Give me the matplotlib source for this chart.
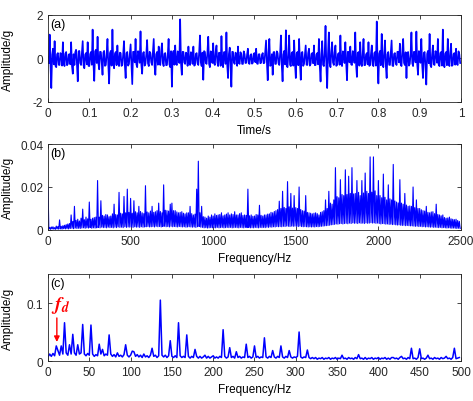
import numpy as np
import matplotlib
matplotlib.use('Agg')
from matplotlib import pyplot as plt

plt.rcParams['font.family'] = ['Liberation Sans', 'DejaVu Sans']
plt.rcParams['mathtext.fontset'] = 'stix'

# (a) time signal, sampled every 2 ms, amplitude in g
signal_a = [
    0.05, -0.22, 1.10, -0.31, -1.36, 0.18, 0.45, -0.27, 0.80, -0.34, -0.40, 0.20, 0.25, -0.29, -0.30, 0.25, 0.20, -0.33, 0.75, -0.21,
    -0.35, 0.22, 0.30, -0.31, -0.25, 0.18, 0.20, -0.27, 0.75, -0.34, -0.70, 0.20, -0.30, 0.29, 0.40, -0.25, -1.05, 0.33, 0.35, -0.21,
    -0.30, 0.22, 0.80, -0.31, -0.45, 0.18, 0.25, -0.27, 0.75, -0.34, -0.35, 0.20, 0.30, -0.29, 1.33, -0.25, -1.03, 0.33, 0.40, -0.21,
    1.00, -0.22, -0.50, 0.31, 0.30, -0.18, -0.75, 0.27, 0.35, -0.34, -0.30, 0.20, 0.90, -0.29, -1.15, 0.25, 0.35, -0.33, 1.33, -0.21,
    -0.45, 0.22, 0.30, -0.31, 0.60, -0.18, -0.35, 0.27, 0.25, -0.34, -0.30, 0.20, 0.80, -0.29, -0.90, 0.25, 0.30, -0.33, -0.25, 0.21,
    0.65, -0.22, -1.18, 0.31, 0.30, -0.18, 0.90, -0.27, -0.40, 0.34, 0.25, -0.20, 1.25, -0.29, -0.70, 0.25, 0.30, -0.33, -0.25, 0.21,
    0.85, -0.22, -0.35, 0.31, 0.25, -0.18, -0.30, 0.27, 0.90, -0.34, -0.75, 0.20, 0.30, -0.29, 0.55, -0.25, -0.30, 0.33, 0.70, -0.21,
    -0.35, 0.22, 0.25, -0.31, -0.30, 0.18, 0.90, -0.27, -0.40, 0.34, -1.30, 0.20, 0.35, -0.29, 0.60, -0.25, -0.30, 0.33, 0.25, -0.21,
    1.80, -0.22, -0.75, 0.31, 0.30, -0.18, -0.25, 0.27, 0.20, -0.34, 0.55, -0.20, -0.30, 0.29, 0.25, -0.25, 0.55, -0.33, -0.30, 0.21,
    0.25, -0.22, -0.30, 0.31, 1.06, -0.18, -0.35, 0.27, -0.98, 0.34, 0.30, -0.20, -0.25, 0.29, 1.00, -0.25, -0.40, 0.33, 0.30, -0.21,
    0.70, -0.22, -0.30, 0.31, 0.60, -0.18, -0.35, 0.27, 0.25, -0.34, 1.03, -0.20, -0.40, 0.29, 0.30, -0.25, 1.20, -0.33, -0.90, 0.21,
    0.50, -0.22, -1.30, 0.31, 0.30, -0.18, -0.25, 0.27, 0.20, -0.34, 0.55, -0.20, -0.25, 0.29, 0.20, -0.25, -0.25, 0.33, 0.20, -0.21,
    -0.20, 0.18, 0.45, -0.22, -0.25, 0.15, 0.20, -0.24, -0.20, 0.21, 0.25, -0.17, 0.45, -0.23, -0.25, 0.19, 0.20, -0.22, -0.20, 0.18,
    0.25, -0.22, -0.20, 0.31, 0.83, -0.18, -1.00, 0.27, 0.90, -0.34, -0.30, 0.20, -0.75, 0.29, 0.30, -0.25, -0.25, 0.33, 0.25, -0.21,
    -0.30, 0.22, 1.06, -0.31, -1.05, 0.18, 0.35, -0.27, 1.30, -0.34, -0.40, 0.20, 1.06, -0.29, -0.35, 0.25, 0.30, -0.33, 0.83, -0.21,
    -0.90, 0.22, 0.30, -0.31, 0.90, -0.18, -0.98, 0.27, 0.30, -0.34, -0.25, 0.20, 0.60, -0.29, -0.30, 0.25, 0.45, -0.33, -0.25, 0.21,
    0.25, -0.22, 0.60, -0.31, -0.30, 0.18, 0.25, -0.27, 0.90, -0.34, -1.06, 0.20, 0.80, -0.29, -0.35, 0.25, 1.50, -0.33, -1.36, 0.21,
    1.20, -0.22, -0.40, 0.31, 0.75, -0.18, -0.30, 0.27, 0.60, -0.34, -0.30, 0.20, 0.25, -0.29, 1.06, -0.25, -0.35, 0.33, 0.30, -0.21,
    0.75, -0.22, -1.00, 0.31, 0.30, -0.18, 0.55, -0.27, -0.30, 0.34, 0.25, -0.20, 1.20, -0.29, -0.85, 0.25, 0.30, -0.33, 0.75, -0.21,
    -0.35, 0.22, 0.90, -0.31, -0.30, 0.18, 0.25, -0.27, 0.75, -0.34, -0.30, 0.20, 0.60, -0.29, -0.35, 0.25, 0.30, -0.33, 1.70, -0.21,
    -1.15, 0.22, 0.35, -0.31, 1.13, -0.18, -0.40, 0.27, 0.83, -0.34, -0.90, 0.20, 0.30, -0.29, -0.30, 0.25, 0.83, -0.33, -0.35, 0.21,
    0.25, -0.22, -0.30, 0.31, 0.30, -0.18, 0.68, -0.27, -0.35, 0.34, 0.90, -0.20, -0.30, 0.29, -0.90, 0.25, 0.30, -0.33, -0.25, 0.21,
    1.20, -0.22, -0.35, 0.31, 0.30, -0.18, 1.24, -0.27, -0.75, 0.34, 0.30, -0.20, 0.90, -0.29, -0.90, 0.25, 0.30, -0.33, -1.20, 0.21,
    0.35, -0.22, 1.13, -0.31, -0.40, 0.18, 0.60, -0.27, -0.30, 0.34, 0.25, -0.20, 0.90, -0.29, -0.35, 0.25, 0.30, -0.33, 1.33, -0.21,
    -0.40, 0.22, 0.30, -0.31, 0.90, -0.18, -0.35, 0.27, 0.68, -0.34, -0.30, 0.20, 0.25, -0.29, 0.45, -0.25, -0.30, 0.33, 0.20, -0.21,
]

# (b) spectrum, 5 Hz bins, amplitude in 1e-3 g
spec_b = [
    20, 0.4, 1.2, 0.3, 1.4, 0.5, 1.5, 0.4, 1.1, 0.3, 1.8, 0.5, 1.6, 0.4, 4.7, 0.5, 1.7, 0.4, 2.0, 0.6,
    2.2, 0.5, 2.5, 0.6, 2.8, 0.5, 3.0, 0.7, 7.0, 0.8, 4.0, 0.6, 11.0, 0.9, 4.5, 0.7, 5.0, 0.8, 4.2, 0.7,
    5.5, 0.9, 9.7, 1.0, 4.8, 0.8, 6.0, 1.0, 5.2, 0.9, 13.0, 1.1, 5.0, 0.8, 5.5, 1.0, 5.8, 0.9, 6.0, 1.0,
    23.0, 1.2, 6.0, 1.0, 13.6, 1.3, 6.8, 1.1, 6.5, 1.2, 7.2, 1.0, 7.0, 1.3, 6.2, 1.1, 6.5, 1.2, 7.5, 1.0,
    12.0, 1.3, 7.2, 1.1, 7.0, 1.4, 17.5, 1.2, 7.8, 1.3, 7.5, 1.1, 15.6, 1.5, 8.0, 1.2, 19.0, 1.4, 8.2, 1.3,
    14.7, 1.4, 7.8, 1.2, 13.6, 1.5, 8.5, 1.3, 8.0, 1.4, 11.0, 1.2, 8.6, 1.5, 8.0, 1.3, 7.6, 1.4, 20.6, 1.5,
    8.4, 1.6, 8.0, 1.4, 8.8, 1.5, 11.0, 1.6, 8.2, 1.4, 8.5, 1.7, 9.0, 1.5, 12.5, 1.6, 8.6, 1.4, 8.0, 1.6,
    21.0, 1.7, 9.2, 1.5, 9.0, 1.6, 8.8, 1.4, 12.0, 1.7, 12.5, 1.5, 9.0, 1.6, 9.0, 1.5, 8.4, 1.4, 8.0, 1.6,
    8.2, 1.5, 8.5, 1.4, 7.8, 1.5, 7.5, 1.3, 8.0, 1.4, 8.0, 1.5, 11.0, 1.4, 7.6, 1.3, 7.0, 1.4, 7.4, 1.2,
    19.0, 1.5, 32.0, 1.6, 8.0, 1.3, 11.0, 1.2, 6.2, 1.0, 6.0, 1.1, 5.5, 0.9, 6.5, 1.0, 6.0, 1.1, 7.0, 1.0,
    6.5, 1.1, 7.5, 1.0, 6.8, 1.2, 7.0, 1.0, 7.2, 1.1, 8.0, 1.2, 6.6, 1.0, 7.0, 1.1, 7.4, 1.2, 8.0, 1.1,
    7.0, 1.2, 7.5, 1.0, 7.2, 1.1, 8.5, 1.2, 7.0, 1.1, 7.0, 1.0, 7.6, 1.2, 8.0, 1.1, 6.8, 1.0, 7.0, 1.2,
    6.8, 1.1, 19.0, 1.2, 6.6, 1.0, 7.0, 1.1, 6.4, 1.0, 6.5, 1.2, 7.2, 1.1, 7.0, 1.0, 11.5, 1.2, 6.8, 1.1,
    6.5, 1.2, 7.0, 1.1, 7.0, 1.3, 7.4, 1.2, 7.5, 1.4, 8.2, 1.3, 8.0, 1.5, 8.6, 1.4, 9.0, 1.6, 9.5, 1.5,
    13.4, 1.6, 10.0, 1.5, 18.0, 1.7, 10.5, 1.6, 10.0, 1.8, 22.5, 1.7, 10.8, 1.6, 17.0, 1.8, 10.2, 1.7, 16.0, 1.8,
    10.4, 1.7, 10.0, 1.6, 20.0, 1.8, 9.5, 1.6, 9.0, 1.5, 8.8, 1.6, 16.0, 1.5, 8.2, 1.4, 8.0, 1.5, 7.8, 1.4,
    7.5, 1.5, 7.8, 1.4, 8.0, 1.6, 7.6, 1.5, 7.0, 1.6, 8.2, 1.7, 8.5, 1.8, 9.0, 1.9, 14.0, 2.0, 10.0, 2.1,
    18.0, 2.2, 12.5, 2.4, 12.0, 2.5, 14.0, 2.6, 29.0, 2.8, 15.5, 2.7, 15.0, 2.9, 23.4, 3.0, 16.5, 2.8, 16.0, 3.0,
    28.0, 3.1, 16.5, 2.9, 25.0, 3.2, 17.0, 3.0, 29.0, 3.3, 16.8, 3.1, 17.0, 3.2, 23.0, 3.0, 17.5, 3.3, 16.0, 3.1,
    23.0, 3.2, 17.2, 3.0, 26.5, 3.3, 18.0, 3.1, 17.0, 3.2, 34.0, 3.4, 17.6, 3.2, 34.0, 3.3, 18.2, 3.1, 16.0, 3.2,
    23.0, 3.0, 16.0, 2.8, 15.0, 3.0, 26.0, 2.9, 15.2, 2.7, 14.0, 2.8, 21.0, 2.6, 14.5, 2.7, 14.0, 2.5, 30.5, 2.6,
    13.5, 2.4, 13.0, 2.3, 12.6, 2.4, 23.4, 2.2, 12.5, 2.1, 12.0, 2.2, 17.0, 2.0, 11.6, 2.1, 11.0, 2.0, 11.2, 1.9,
    11.0, 1.9, 20.0, 1.8, 10.4, 1.7, 14.0, 1.8, 10.0, 1.6, 10.0, 1.7, 9.4, 1.5, 9.0, 1.6, 8.8, 1.4, 11.0, 1.5,
    8.2, 1.4, 8.0, 1.3, 8.4, 1.4, 8.5, 1.2, 7.6, 1.3, 12.0, 1.2, 7.2, 1.1, 7.0, 1.2, 6.6, 1.0, 7.0, 1.1,
    5.8, 1.0, 5.5, 0.9, 5.6, 1.0, 6.0, 0.9, 5.2, 0.8, 5.0, 0.9, 4.8, 0.8, 5.0, 0.7, 4.4, 0.8, 4.0, 0.7,
]

# (c) envelope spectrum, 2 Hz bins, amplitude in 1e-3 g
spec_c = [
    7, 12, 8, 13, 9, 26, 18, 10, 26, 12,
    66, 14, 10, 28, 12, 46, 14, 10, 28, 12,
    14, 63, 12, 9, 13, 10, 62, 12, 8, 11,
    9, 29, 12, 20, 9, 12, 10, 45, 12, 8,
    11, 7, 14, 8, 10, 7, 11, 28, 10, 7,
    10, 17, 16, 8, 11, 7, 10, 6, 12, 7,
    9, 6, 10, 22, 8, 10, 6, 9, 105, 10,
    7, 10, 6, 9, 35, 8, 6, 9, 6, 66,
    9, 6, 8, 6, 45, 8, 5, 8, 6, 20,
    8, 5, 8, 5, 7, 10, 5, 8, 5, 7,
    9, 5, 7, 5, 8, 6, 54, 8, 5, 7,
    23, 6, 8, 5, 16, 6, 8, 5, 7, 6,
    29, 6, 8, 5, 7, 26, 6, 8, 5, 7,
    6, 40, 7, 5, 8, 6, 18, 7, 5, 8,
    6, 26, 7, 5, 8, 6, 18, 7, 5, 7,
    6, 8, 50, 7, 5, 7, 6, 19, 6, 4,
    6, 4, 6, 3, 5, 4, 6, 3, 5, 4,
    6, 3, 5, 4, 6, 3, 5, 4, 10, 4,
    5, 3, 6, 4, 5, 3, 6, 4, 11, 4,
    5, 3, 6, 3, 5, 4, 6, 3, 5, 4,
    6, 3, 5, 4, 6, 3, 5, 3, 6, 6,
    4, 5, 3, 6, 8, 4, 5, 3, 6, 4,
    22, 4, 5, 3, 6, 21, 4, 5, 3, 5,
    10, 4, 5, 3, 6, 4, 5, 3, 6, 4,
    5, 8, 4, 5, 3, 6, 22, 4, 5, 6,
]

fd = 10.7  # fault characteristic frequency, Hz

t = np.arange(len(signal_a)) * 0.002
f_b = np.arange(len(spec_b)) * 5.0
f_c = np.arange(len(spec_c)) * 2.0
amp_b = np.array(spec_b) * 1e-3
amp_c = np.array(spec_c) * 1e-3

fig = plt.figure(figsize=(4.73, 4.02), dpi=100)
ax1 = fig.add_axes([0.1015, 0.7438, 0.8731, 0.2164])
ax2 = fig.add_axes([0.1015, 0.4254, 0.8731, 0.2139])
ax3 = fig.add_axes([0.1015, 0.0995, 0.8731, 0.2164])

blue = '#0000ff'
ax1.plot(t, signal_a, color=blue, lw=1.2)
ax2.plot(f_b, amp_b, color=blue, lw=0.8)
ax3.plot(f_c, amp_c, color=blue, lw=1.1)

ax1.set_xlim(0, 1)
ax1.set_ylim(-2, 2)
ax1.set_xticks(np.arange(0, 1.01, 0.1))
ax1.set_xticklabels(['0', '0.1', '0.2', '0.3', '0.4', '0.5', '0.6', '0.7', '0.8', '0.9', '1'])
ax1.set_yticks([-2, 0, 2])
ax1.set_yticklabels(['-2', '0', '2'])
ax1.set_xlabel('Time/s', fontsize=8.5, labelpad=4)

ax2.set_xlim(0, 2500)
ax2.set_ylim(0, 0.04)
ax2.set_xticks([0, 500, 1000, 1500, 2000, 2500])
ax2.set_yticks([0, 0.02, 0.04])
ax2.set_yticklabels(['0', '0.02', '0.04'])
ax2.set_xlabel('Frequency/Hz', fontsize=8.5, labelpad=4)

ax3.set_xlim(0, 500)
ax3.set_ylim(0, 0.15)
ax3.set_xticks(np.arange(0, 501, 50))
ax3.set_yticks([0, 0.1])
ax3.set_yticklabels(['0', '0.1'])
ax3.set_xlabel('Frequency/Hz', fontsize=8.5, labelpad=4)

for ax, tag in zip([ax1, ax2, ax3], ['(a)', '(b)', '(c)']):
    ax.tick_params(direction='in', top=True, right=True, length=3,
                   width=0.6, labelsize=8.5, colors='#262626')
    for s in ax.spines.values():
        s.set_linewidth(0.6)
        s.set_color('#262626')
    ax.set_ylabel('Amplitude/g', fontsize=8.5)
    ax.yaxis.set_label_coords(-0.083, 0.5)
    ax.text(0.006, 0.96, tag, transform=ax.transAxes, fontsize=9,
            va='top', ha='left')

# fault frequency marker
ax3.annotate('', xy=(fd, 0.028), xytext=(fd, 0.079),
             arrowprops=dict(arrowstyle='-|>', color='red', lw=1.0,
                             mutation_scale=8))
ax3.text(4.0, 0.080, r'$\mathbfit{f}_{\mathbfit{d}}$', color='red',
         fontsize=14, ha='left', va='bottom')

fig.savefig('out.png', dpi=100)
